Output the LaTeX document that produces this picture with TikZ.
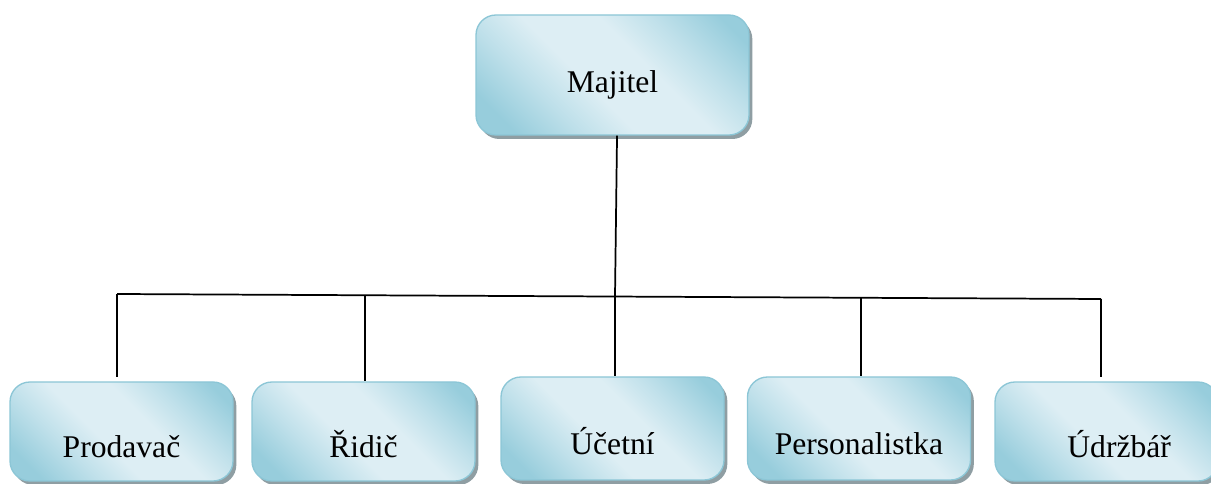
\documentclass[tikz,border=0pt]{standalone}
\usepackage{fontspec}
\setmainfont{Liberation Serif}
\usetikzlibrary{shadows}

\definecolor{boxlight}{HTML}{DDEEF4}
\definecolor{boxmid}{HTML}{BFE0EA}
\definecolor{boxdark}{HTML}{97CDDC}
\definecolor{boxedge}{HTML}{8CC6D6}
\definecolor{boxshadow}{HTML}{8F9EA3}

% light diagonal band between two darker corners
\pgfdeclarehorizontalshading{tilegrad}{100bp}{%
  color(0bp)=(boxdark); color(22bp)=(boxdark); color(34bp)=(boxmid);
  color(44bp)=(boxlight); color(58bp)=(boxlight); color(68bp)=(boxmid);
  color(80bp)=(boxdark); color(100bp)=(boxdark)}

\begin{document}
\begin{tikzpicture}[x=0.75pt,y=-0.75pt,
  role/.style={rectangle, rounded corners=15pt, draw=boxedge, line width=1pt,
    shading=tilegrad, shading angle=45, inner sep=0pt, text=black,
    font=\fontsize{23.7}{28}\selectfont,
    drop shadow={shadow xshift=2.5pt, shadow yshift=-3pt, fill=boxshadow, opacity=1}},
  headbox/.style={role, minimum width=204.75pt, text height=58.5pt, text depth=31.5pt},
  staffbox/.style={role, minimum width=167.25pt, text height=57pt, text depth=17.25pt},
  link/.style={line width=1.3pt, draw=black}]

\useasboundingbox (0,0) rectangle (1211,484);

% boxes
\node[headbox]  (maj) at (612.5,75)    {Majitel};
\node[staffbox] (pro) at (121.5,431.5) {Prodavač};
\node[staffbox] (rid) at (363.5,431.5) {Řidič};
\node[staffbox, text height=58.5pt, text depth=18.75pt] (uce) at (612.5,428.5) {Účetní};
\node[staffbox, text height=58.5pt, text depth=18.75pt] (per) at (859,428.5) {Personalistka};
\node[staffbox] (udr) at (1106.5,431.5){\hspace*{19pt}Údržbář};

% horizontal bus and its junctions
\coordinate (busL) at (117,294);
\coordinate (busR) at (1101,299);
\coordinate (j2) at (365,295.3);
\coordinate (j3) at (615,296.5);
\coordinate (j4) at (861,297.8);

\draw[link] (busL) -- (busR);
\draw[link] ([xshift=3.4pt]maj.south) -- (j3);

% drops to the staff boxes
\draw[link, shorten >=3pt] (busL) -- (busL |- pro.north);
\draw[link] (j2) -- (j2 |- rid.north);
\draw[link] (j3) -- (j3 |- uce.north);
\draw[link] (j4) -- (j4 |- per.north);
\draw[link, shorten >=3pt] (busR) -- (busR |- udr.north);
\end{tikzpicture}
\end{document}
